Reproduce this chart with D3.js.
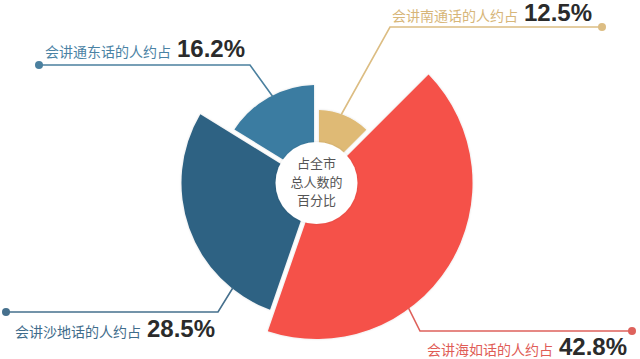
<!DOCTYPE html>
<html lang="zh">
<head>
  <meta charset="utf-8">
  <title>方言人数占比</title>
  <script src="https://cdnjs.cloudflare.com/ajax/libs/d3/7.8.5/d3.min.js"></script>
  <style>
    html, body { margin: 0; padding: 0; background: #fff; }
    svg { display: block; }
    .cat { font-family: "Noto Sans CJK SC", sans-serif; font-size: 14px; }
    .pct { font-family: "Liberation Sans", Arial, sans-serif; font-weight: bold; font-size: 24px; fill: #2b2b2b; }
    .center-text { font-family: "Noto Sans CJK SC", sans-serif; font-size: 13px; fill: #555; }
  </style>
</head>
<body>
<svg id="chart"></svg>
<script>
// data
var dialects = ["会讲南通话的人约占", "会讲海如话的人约占", "会讲沙地话的人约占", "会讲通东话的人约占"];
var shares = [12.5, 42.8, 28.5, 16.2];
var centerLines = ["占全市", "总人数的", "百分比"];

var w = 640, h = 359;
var cx = 316.5, cy = 183;

var palette = ["#dfba74", "#f5514a", "#2e6283", "#3b7ca1"];
var textColors = ["#d7b679", "#e05c56", "#3f6c8b", "#4a82a4"];
var lineColors = ["#dcbd83", "#de625c", "#46708d", "#4b809f"];

// label layout (leader elbow, dot, text anchor)
var layout = [
  { frac: 0.44, elbow: [390, 27], dotX: 602, textX: 592, anchor: "end", dy: -6.5 },
  { frac: 0.64, elbow: [420, 331], dotX: 632, textX: 627, anchor: "end", dy: 24 },
  { frac: 0.19, elbow: [218, 312], dotX: 6, textX: 15, anchor: "start", dy: 25 },
  { frac: 0.54, elbow: [250, 65], dotX: 39, textX: 45, anchor: "start", dy: -8 }
];

var svg = d3.select("#chart").attr("width", w).attr("height", h);

var defs = svg.append("defs");
var f = defs.append("filter").attr("id", "shadow")
  .attr("x", "-20%").attr("y", "-20%").attr("width", "140%").attr("height", "140%");
f.append("feDropShadow").attr("dx", 0).attr("dy", 0)
  .attr("stdDeviation", 1.2).attr("flood-color", "#000").attr("flood-opacity", 0.14);

var sorted = shares.slice().sort(d3.ascending);
var rScale = d3.scaleLinear().domain(sorted).range([73, 98, 135, 156]);
var color = d3.scaleOrdinal().domain(d3.range(shares.length)).range(palette);

var pie = d3.pie().sort(null).value(function(d) { return d; });
var arcs = pie(shares);

var arc = d3.arc()
  .innerRadius(38)
  .outerRadius(function(d) { return rScale(d.data); })
  .padAngle(0.045)
  .padRadius(110);

var g = svg.append("g").attr("transform", "translate(" + cx + "," + cy + ")");

g.selectAll("path.slice").data(arcs)
  .enter().append("path")
  .attr("class", "slice")
  .attr("d", arc)
  .attr("fill", function(d, i) { return color(i); })
  .attr("filter", "url(#shadow)");

// center disc
g.append("circle")
  .attr("r", 41)
  .attr("fill", "#fff")
  .attr("filter", "url(#shadow)");

g.selectAll("text.center-text").data(centerLines)
  .enter().append("text")
  .attr("class", "center-text")
  .attr("text-anchor", "middle")
  .attr("x", 0)
  .attr("y", function(d, i) { return -15 + i * 18.5; })
  .text(function(d) { return d; });

// leaders and labels
arcs.forEach(function(d, i) {
  var L = layout[i];
  var a = d.startAngle + (d.endAngle - d.startAngle) * L.frac;
  var r = rScale(d.data) - 1;
  var p0 = [cx + r * Math.sin(a), cy - r * Math.cos(a)];
  var pts = [p0, L.elbow, [L.dotX, L.elbow[1]]];

  svg.append("path")
    .attr("d", d3.line()(pts))
    .attr("fill", "none")
    .attr("stroke", lineColors[i])
    .attr("stroke-width", 1.6);

  svg.append("circle")
    .attr("cx", L.dotX).attr("cy", L.elbow[1])
    .attr("r", 4)
    .attr("fill", lineColors[i]);

  var t = svg.append("text")
    .attr("x", L.textX)
    .attr("y", L.elbow[1] + L.dy)
    .attr("text-anchor", L.anchor);
  t.append("tspan").attr("class", "cat").attr("fill", textColors[i]).text(dialects[i]);
  t.append("tspan").attr("class", "pct").attr("dx", 6).text(d.data + "%");
});
</script>
</body>
</html>
